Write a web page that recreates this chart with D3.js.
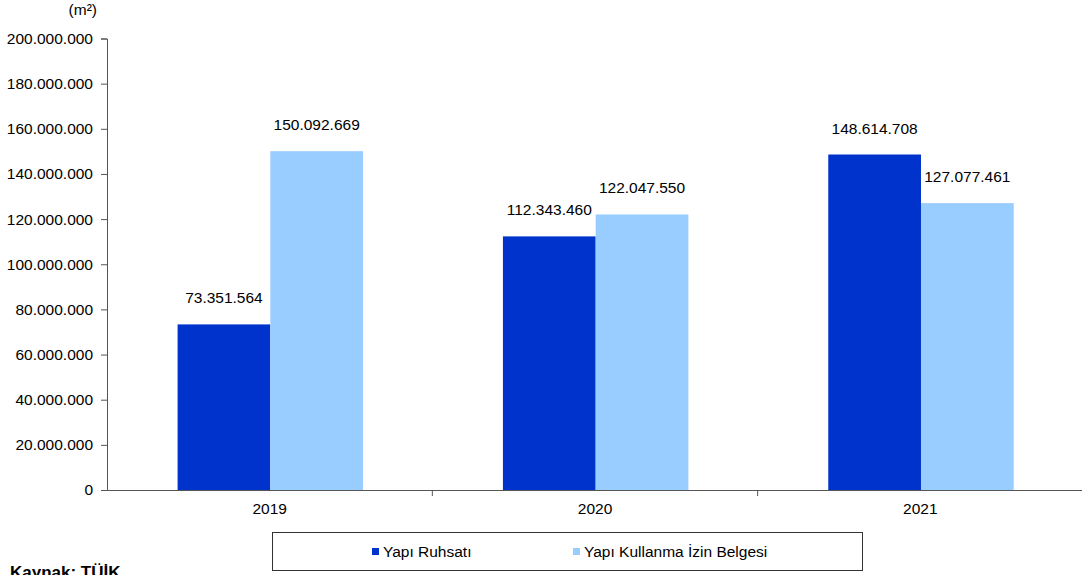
<!DOCTYPE html>
<html><head><meta charset="utf-8">
<script src="https://cdn.jsdelivr.net/npm/d3@7/dist/d3.min.js"></script>
<style>body{margin:0;background:#fff}svg{display:block;font-family:"Liberation Sans",Arial,sans-serif}</style>
</head><body>
<svg id="c" width="1082" height="575"></svg>
<script>
const years = ["2019","2020","2021"];
const seriesNames = ["Yapı Ruhsatı","Yapı Kullanma İzin Belgesi"];
const ruhsat = [73351564,112343460,148614708];
const iskan = [150092669,122047550,127077461];
const yTicks = [0,20000000,40000000,60000000,80000000,100000000,120000000,140000000,160000000,180000000,200000000];
const colors = ["#0033CC","#99CCFF"];

const svg = d3.select("#c");
const fs = "15.5px";
const fmt = v => d3.format(",")(v).replace(/,/g,".");
const y = d3.scaleLinear().domain([0,200000000]).range([490,38.5]);
const x = d3.scaleBand().domain(years).range([107,1083]);
const bw = x.bandwidth();
const x1 = d3.scaleBand().domain([0,1]).range([bw*0.217,bw*0.787]);

const yAxis = d3.axisLeft(y).tickValues(yTicks).tickSize(6).tickPadding(8).tickFormat(d=>d===0?"0":fmt(d));
const gy = svg.append("g").attr("transform","translate(107,0)").call(yAxis);
gy.selectAll("text").attr("font-size",fs).attr("fill","#000");
gy.selectAll("line,path").attr("stroke","#555");

const data = years.map((yr,i)=>({yr, vals:[ruhsat[i],iskan[i]]}));
const g = svg.append("g");
data.forEach(d=>{
  d.vals.forEach((v,j)=>{
    g.append("rect").attr("x",x(d.yr)+x1(j)).attr("width",x1.bandwidth()).attr("y",y(v)).attr("height",y(0)-y(v)).attr("fill",colors[j]);
    g.append("text").attr("x",x(d.yr)+x1(j)+x1.bandwidth()/2).attr("y",y(v)-21).attr("text-anchor","middle").attr("font-size",fs).text(fmt(v));
  });
});

const xAxis = d3.axisBottom(x).tickSize(0).tickPadding(0);
const gx = svg.append("g").attr("transform","translate(0,490)").call(xAxis);
gx.select("path").attr("stroke","#555");
gx.selectAll("text").attr("font-size",fs).attr("fill","#000").attr("y",24).attr("dy",null);
years.slice(1).forEach(yr=>{
  gx.append("line").attr("x1",x(yr)).attr("x2",x(yr)).attr("y1",0).attr("y2",6).attr("stroke","#555");
});

svg.append("text").attr("x",97).attr("y",15).attr("text-anchor","end").attr("font-size",fs).text("(m²)");

const lg = svg.append("g");
lg.append("rect").attr("x",272.5).attr("y",532.5).attr("width",590).attr("height",38).attr("fill","#fff").attr("stroke","#333");
const lx = [372,573];
seriesNames.forEach((n,j)=>{
  lg.append("rect").attr("x",lx[j]).attr("y",548).attr("width",7).attr("height",7).attr("fill",colors[j]);
  lg.append("text").attr("x",lx[j]+11).attr("y",557).attr("font-size",fs).text(n);
});

svg.append("text").attr("x",10).attr("y",578).attr("font-size","17px").attr("font-weight","bold").text("Kaynak: TÜİK.");
</script>
</body></html>
